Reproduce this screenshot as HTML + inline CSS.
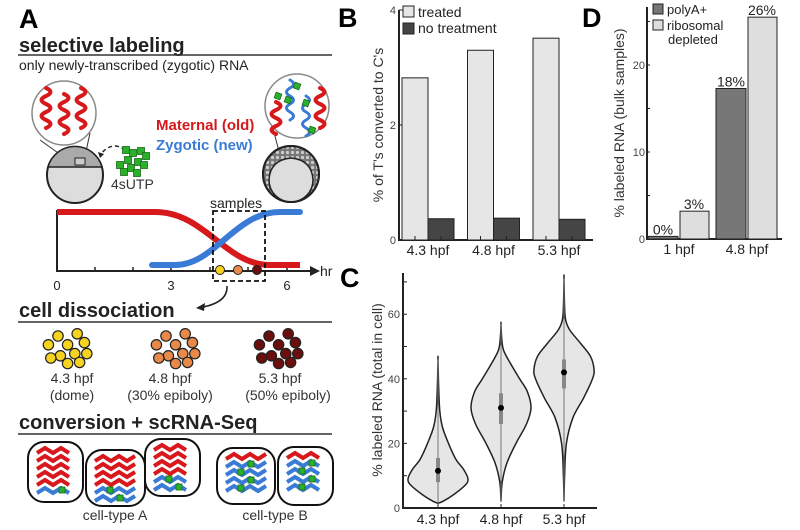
<!DOCTYPE html>
<html><head><meta charset="utf-8"><style>
body{margin:0;background:#fff}
svg{display:block;font-family:"Liberation Sans",Arial,sans-serif}
</style></head><body>
<svg id="fig" width="800" height="530" viewBox="0 0 800 530" xmlns="http://www.w3.org/2000/svg">
<defs>
<pattern id="hatch" width="5" height="5" patternUnits="userSpaceOnUse"><rect width="5" height="5" fill="#777"/><circle cx="2.5" cy="2.5" r="1.6" fill="#ccc"/></pattern>
</defs>
<!-- PANEL A -->
<g>
<text x="19" y="28" font-size="27" font-weight="bold">A</text>
<text x="19" y="52" font-size="20" font-weight="bold" fill="#222">selective labeling</text>
<line x1="18" y1="55" x2="332" y2="55" stroke="#333" stroke-width="1.5"/>
<text x="19" y="70" font-size="14" fill="#222">only newly-transcribed (zygotic) RNA</text>
<g>
<line x1="40" y1="140" x2="75" y2="165" stroke="#333"/><line x1="90" y1="133" x2="83" y2="165" stroke="#333"/>
<circle cx="64" cy="113" r="32" fill="#fff" stroke="#888" stroke-width="1.5"/>
<g id="lsq" fill="none" stroke="#d7191c" stroke-width="3.5"></g>
</g>
<g>
<circle cx="75" cy="175" r="28" fill="#ddd" stroke="#222" stroke-width="2"/>
<path d="M48,167 A28,28 0 0 1 102,167 Z" fill="#aaa" stroke="#222" stroke-width="1.5"/>
<rect x="75" y="158" width="10" height="7" fill="#ccc" stroke="#222"/>
</g>
<path d="M125,150 Q112,140 100,155" fill="none" stroke="#222" stroke-width="1.5" stroke-dasharray="4,3"/>
<path d="M98,152 l2,6 4,-4z" fill="#222"/>
<g id="green4s"></g>
<text x="111" y="189" font-size="14" fill="#333">4sUTP</text>
<text x="156" y="130" font-size="15" font-weight="bold" fill="#d7191c">Maternal (old)</text>
<text x="156" y="150" font-size="15" font-weight="bold" fill="#3a7bd5">Zygotic (new)</text>
<g>
<line x1="272" y1="125" x2="280" y2="155" stroke="#333"/>
<circle cx="297" cy="106" r="32" fill="#fff" stroke="#888" stroke-width="1.5"/>
<g id="rsq" fill="none" stroke-width="3"></g>
</g>
<g>
<circle cx="291" cy="174" r="28" fill="url(#hatch)" stroke="#222" stroke-width="2"/>
<path d="M269,180 Q270,160 291,158 Q312,160 313,180 A22,22 0 0 1 269,180 Z" fill="#ddd" stroke="#222" stroke-width="1.5"/>
<circle cx="291" cy="174" r="28" fill="none" stroke="#222" stroke-width="2"/>
</g>
<g>
<line x1="57" y1="210" x2="57" y2="272" stroke="#222" stroke-width="2"/>
<line x1="57" y1="271" x2="312" y2="271" stroke="#222" stroke-width="2"/>
<path d="M310,266 l10,5 -10,5z" fill="#222"/>
<text x="320" y="276" font-size="14" fill="#222">hr</text>
<g stroke="#222" stroke-width="1.5"><line x1="95" y1="267" x2="95" y2="271"/><line x1="133" y1="267" x2="133" y2="271"/><line x1="171" y1="266" x2="171" y2="271"/><line x1="210" y1="267" x2="210" y2="271"/><line x1="248" y1="267" x2="248" y2="271"/><line x1="287" y1="266" x2="287" y2="271"/></g>
<text x="57" y="290" font-size="13" text-anchor="middle" fill="#222">0</text>
<text x="171" y="290" font-size="13" text-anchor="middle" fill="#222">3</text>
<text x="287" y="290" font-size="13" text-anchor="middle" fill="#222">6</text>
<path d="M57,212 L155,212 C205,212 225,265 270,265 L300,265" fill="none" stroke="#d7191c" stroke-width="6"/>
<path d="M152,265 L175,265 C215,265 235,212 280,212 L300,212" fill="none" stroke="#3a7bd5" stroke-width="6" stroke-linecap="round"/>
<rect x="213" y="211" width="52" height="70" fill="none" stroke="#111" stroke-width="1.8" stroke-dasharray="5,3"/>
<text x="210" y="208" font-size="14" fill="#222">samples</text>
<circle cx="220" cy="270" r="4.5" fill="#f5d31f" stroke="#222"/>
<circle cx="238" cy="270" r="4.5" fill="#e8894a" stroke="#222"/>
<circle cx="257" cy="270" r="4.5" fill="#6b0e0e" stroke="#222"/>
<path d="M227,286 Q228,302 203,307" fill="none" stroke="#222" stroke-width="1.5"/>
<path d="M196,308 l9,-5 -1,8z" fill="#222"/>
</g>
<text x="19" y="317" font-size="20" font-weight="bold" fill="#222">cell dissociation</text>
<line x1="18" y1="322" x2="332" y2="322" stroke="#333" stroke-width="1.5"/>
<g id="clusters"></g>
<g font-size="14" fill="#333" text-anchor="middle">
<text x="72" y="383">4.3 hpf</text><text x="72" y="400">(dome)</text>
<text x="170" y="383">4.8 hpf</text><text x="170" y="400">(30% epiboly)</text>
<text x="280" y="383">5.3 hpf</text><text x="288" y="400">(50% epiboly)</text>
</g>
<text x="19" y="429" font-size="20" font-weight="bold" fill="#222">conversion + scRNA-Seq</text>
<line x1="18" y1="434" x2="332" y2="434" stroke="#333" stroke-width="1.5"/>
<g id="cells"></g>
<text x="115" y="520" font-size="14" fill="#333" text-anchor="middle">cell-type A</text>
<text x="275" y="520" font-size="14" fill="#333" text-anchor="middle">cell-type B</text>
</g>
<g id="panelB">
<text x="338" y="27" font-size="27" font-weight="bold">B</text>
<text transform="translate(383,125) rotate(-90)" font-size="14" text-anchor="middle" fill="#333">% of T's converted to C's</text>
</g>
<g id="panelC">
<text x="340" y="287" font-size="27" font-weight="bold">C</text>
<text transform="translate(382,390) rotate(-90)" font-size="14" text-anchor="middle" fill="#333">% labeled RNA (total in cell)</text>
</g>
<g id="panelD">
<text x="582" y="27" font-size="27" font-weight="bold">D</text>
<text transform="translate(624,123) rotate(-90)" font-size="14" text-anchor="middle" fill="#333">% labeled RNA (bulk samples)</text>
</g>
</svg>
<script>
// ---- Panel B data ----
const bCategories = ["4.3 hpf", "4.8 hpf", "5.3 hpf"];
const bTreated = [2.82, 3.3, 3.51];
const bNoTreatment = [0.37, 0.38, 0.36];
const bTicks = [0, 2, 4];
// ---- Panel C data ----
const cCategories = ["4.3 hpf", "4.8 hpf", "5.3 hpf"];
const cDensityValues = [
  [1.5, 2, 4, 7, 9, 12, 15, 20, 25, 30, 38, 46],
  [2, 8, 14, 20, 26, 31, 36, 40, 45, 49, 53, 57],
  [2, 10, 20, 28, 34, 40, 43, 47, 51, 55, 58, 62, 71]
];
const cDensities = [
  [0, 0.15, 0.5, 0.9, 1.0, 0.85, 0.6, 0.35, 0.15, 0.06, 0.02, 0],
  [0, 0.04, 0.2, 0.5, 0.85, 1.0, 0.88, 0.62, 0.3, 0.08, 0.02, 0],
  [0, 0.02, 0.08, 0.3, 0.65, 0.95, 1.0, 0.88, 0.55, 0.2, 0.06, 0.02, 0]
];
const cMedians = [11.5, 31, 42];
const cQ1 = [8, 26, 37];
const cQ3 = [15.5, 35.5, 46];
const cTicks = [0, 20, 40, 60];
// ---- Panel D data ----
const dCategories = ["1 hpf", "4.8 hpf"];
const dPolyA = [0.3, 17.3];
const dRibo = [3.2, 25.5];
const dPolyALabels = ["0%", "18%"];
const dRiboLabels = ["3%", "26%"];
const dTicks = [0, 10, 20];

const NS = "http://www.w3.org/2000/svg";
function mk(parent, tag, attrs, text) {
  const e = document.createElementNS(NS, tag);
  for (const k in attrs) e.setAttribute(k, attrs[k]);
  if (text !== undefined) e.textContent = text;
  parent.appendChild(e);
  return e;
}

(function () {
  const g = document.getElementById("panelB");
  const y = v => 240 - v * 57.5;
  const xc = i => 428 + i * 65.5;
  mk(g, "line", {x1: 399, y1: 10, x2: 399, y2: 241, stroke: "#222", "stroke-width": 2});
  mk(g, "line", {x1: 398, y1: 240, x2: 593, y2: 240, stroke: "#222", "stroke-width": 2});
  bTicks.forEach(t => {
    mk(g, "line", {x1: 399, y1: y(t), x2: 403, y2: y(t), stroke: "#222"});
    const l = mk(g, "text", {x: 396, y: y(t) + 4, "font-size": 11, "text-anchor": "end", fill: "#444"}, t);
    
    
  });
  bCategories.forEach((c, i) => {
    const b1 = mk(g, "rect", {x: xc(i) - 26, y: y(bTreated[i]), width: 26, height: 240 - y(bTreated[i]), fill: "#e6e6e6", stroke: "#222", "stroke-width": 1});
    
    
    const b2 = mk(g, "rect", {x: xc(i), y: y(bNoTreatment[i]), width: 26, height: 240 - y(bNoTreatment[i]), fill: "#454545", stroke: "#222", "stroke-width": 1});
    
    
    mk(g, "line", {x1: xc(i) - 13, y1: 236, x2: xc(i) - 13, y2: 240, stroke: "#222"});
    mk(g, "line", {x1: xc(i) + 13, y1: 236, x2: xc(i) + 13, y2: 240, stroke: "#222"});
    const t = mk(g, "text", {x: xc(i), y: 255, "font-size": 14, "text-anchor": "middle", fill: "#222"}, c);
    
    
  });
  const l1 = mk(g, "rect", {x: 403, y: 6, width: 11, height: 11, fill: "#e6e6e6", stroke: "#222"});
  
  
  mk(g, "text", {x: 418, y: 17, "font-size": 14, fill: "#222"}, "treated");
  const l2 = mk(g, "rect", {x: 403, y: 23, width: 11, height: 11, fill: "#454545", stroke: "#222"});
  
  
  mk(g, "text", {x: 418, y: 33, "font-size": 14, fill: "#222"}, "no treatment");
})();

(function () {
  const g = document.getElementById("panelC");
  const y = v => 508 - v * 3.23;
  const xc = i => 438 + i * 63;
  const W = 30;
  mk(g, "line", {x1: 403, y1: 273, x2: 403, y2: 509, stroke: "#222", "stroke-width": 2});
  mk(g, "line", {x1: 402, y1: 508, x2: 597, y2: 508, stroke: "#222", "stroke-width": 2});
  for (let v = 0; v <= 70; v += 10) mk(g, "line", {x1: 403, y1: y(v), x2: 407, y2: y(v), stroke: "#222"});
  cTicks.forEach(t => {
    const l = mk(g, "text", {x: 400, y: y(t) + 4, "font-size": 11, "text-anchor": "end", fill: "#444"}, t);
    
    
  });
  cCategories.forEach((c, i) => {
    const vals = cDensityValues[i], d = cDensities[i], cx = xc(i);
    const right = vals.map((v, k) => [cx + d[k] * W, y(v)]);
    const left = vals.map((v, k) => [cx - d[k] * W, y(v)]).reverse();
    const pts = right.concat(left);
    let p = "M" + pts[0][0] + "," + pts[0][1];
    for (let k = 0; k < pts.length - 1; k++) {
      const p0 = pts[Math.max(k - 1, 0)], p1 = pts[k], p2 = pts[k + 1], p3 = pts[Math.min(k + 2, pts.length - 1)];
      const c1 = [p1[0] + (p2[0] - p0[0]) / 6, p1[1] + (p2[1] - p0[1]) / 6];
      const c2 = [p2[0] - (p3[0] - p1[0]) / 6, p2[1] - (p3[1] - p1[1]) / 6];
      p += " C" + c1 + " " + c2 + " " + p2;
    }
    const v = mk(g, "path", {d: p + "Z", fill: "#e6e6e6", stroke: "#222", "stroke-width": 1.5});
    
    
    mk(g, "line", {x1: cx, y1: y(vals[0]), x2: cx, y2: y(vals[vals.length - 1]), stroke: "#777", "stroke-width": 1});
    const box = mk(g, "rect", {x: cx - 2, y: y(cQ3[i]), width: 4, height: y(cQ1[i]) - y(cQ3[i]), fill: "#888"});
    
    
    const m = mk(g, "circle", {cx: cx, cy: y(cMedians[i]), r: 3, fill: "#000"});
    
    
    mk(g, "line", {x1: cx, y1: 504, x2: cx, y2: 508, stroke: "#222"});
    const t = mk(g, "text", {x: cx, y: 524, "font-size": 14, "text-anchor": "middle", fill: "#222"}, c);
    
    
  });
})();

(function () {
  const g = document.getElementById("panelD");
  const y = v => 239 - v * 8.7;
  const xc = i => 679 + i * 68;
  mk(g, "line", {x1: 647, y1: 7, x2: 647, y2: 240, stroke: "#222", "stroke-width": 2});
  mk(g, "line", {x1: 646, y1: 239, x2: 782, y2: 239, stroke: "#222", "stroke-width": 2});
  for (let v = 0; v <= 25; v += 5) mk(g, "line", {x1: 647, y1: y(v), x2: 650, y2: y(v), stroke: "#222"});
  dTicks.forEach(t => {
    const l = mk(g, "text", {x: 645, y: y(t) + 4, "font-size": 11, "text-anchor": "end", fill: "#444"}, t);
    
    
  });
  dCategories.forEach((c, i) => {
    const cx = xc(i);
    const b1 = mk(g, "rect", {x: cx - 31, y: y(dPolyA[i]), width: 30, height: 239 - y(dPolyA[i]), fill: "#777", stroke: "#222"});
    
    
    const b2 = mk(g, "rect", {x: cx + 1, y: y(dRibo[i]), width: 29, height: 239 - y(dRibo[i]), fill: "#dedede", stroke: "#222"});
    
    
    const l1 = mk(g, "text", {x: cx - 16, y: y(dPolyA[i]) - 2, "font-size": 14, "text-anchor": "middle", fill: "#222"}, dPolyALabels[i]);
    
    
    const l2 = mk(g, "text", {x: cx + 15, y: y(dRibo[i]) - 2, "font-size": 14, "text-anchor": "middle", fill: "#222"}, dRiboLabels[i]);
    
    
    const t = mk(g, "text", {x: cx, y: 254, "font-size": 14, "text-anchor": "middle", fill: "#222"}, c);
    
    
  });
  const s1 = mk(g, "rect", {x: 653, y: 4, width: 10, height: 10, fill: "#777", stroke: "#222"});
  
  
  mk(g, "text", {x: 667, y: 14, "font-size": 13, fill: "#222"}, "polyA+");
  const s2 = mk(g, "rect", {x: 653, y: 20, width: 10, height: 10, fill: "#dedede", stroke: "#222"});
  
  
  mk(g, "text", {x: 667, y: 30, "font-size": 13, fill: "#222"}, "ribosomal");
  mk(g, "text", {x: 668, y: 44, "font-size": 13, fill: "#222"}, "depleted");
})();

function squig(parent, x, y, h, color, sw, amp) {
  let d = "M" + x + "," + y;
  for (let k = 0; k < h / 8; k++) d += " q" + (k % 2 ? -amp : amp) + ",4 0,8";
  mk(parent, "path", {d: d, stroke: color, "stroke-width": sw, fill: "none", "stroke-linecap": "round"});
}
(function () {
  const l = document.getElementById("lsq");
  squig(l, 46, 88, 40, "#d7191c", 4, 9);
  squig(l, 64, 94, 40, "#d7191c", 4, 9);
  squig(l, 81, 88, 40, "#d7191c", 4, 9);
  const r = document.getElementById("rsq");
  squig(r, 276, 102, 32, "#d7191c", 4, 9);
  squig(r, 320, 88, 36, "#d7191c", 4, 9);
  squig(r, 290, 80, 34, "#3a7bd5", 3, 7);
  squig(r, 306, 96, 36, "#3a7bd5", 3, 7);
  [[297, 86], [288, 100], [306, 103], [312, 130], [278, 96]].forEach(p => mk(r, "rect", {x: p[0] - 3, y: p[1] - 3, width: 6, height: 6, fill: "#2bb02b", stroke: "#176b17", "stroke-width": 0.8, transform: "rotate(20 " + p[0] + " " + p[1] + ")"}));
  const gsq = document.getElementById("green4s");
  [[126, 150], [133, 153], [141, 151], [146, 156], [128, 160], [138, 162], [120, 165], [131, 168], [144, 165], [124, 172], [137, 173]].forEach(p =>
    mk(gsq, "rect", {x: p[0] - 3.5, y: p[1] - 3.5, width: 7, height: 7, fill: "#2bb02b", stroke: "#176b17", "stroke-width": 0.8}));
  const cl = document.getElementById("clusters");
  const offs = [[-18, -2], [-10, -10], [-2, -2], [6, -12], [12, -4], [14, 6], [4, 6], [-8, 8], [-16, 10], [-2, 15], [8, 14]];
  [[70, 347, "#f5d31f"], [178, 347, "#e8894a"], [281, 347, "#6b0e0e"]].forEach(c =>
    offs.forEach(o => mk(cl, "circle", {cx: c[0] + o[0] * 1.2, cy: c[1] + o[1] * 1.1, r: 5.2, fill: c[2], stroke: "#222", "stroke-width": 1.2})));
  const ce = document.getElementById("cells");
  [[28, 442, 55, 60, 5, 1], [86, 450, 59, 56, 4, 2], [145, 439, 55, 57, 4, 2], [217, 448, 58, 56, 1, 4], [278, 447, 55, 58, 1, 4]].forEach(c => {
    mk(ce, "rect", {x: c[0], y: c[1], width: c[2], height: c[3], rx: 16, fill: "#fff", stroke: "#111", "stroke-width": 2});
    let yy = c[1] + 11;
    for (let k = 0; k < c[4] + c[5]; k++) {
      const col = k < c[4] ? "#d7191c" : "#3a7bd5";
      const x0 = c[0] + 9;
      mk(ce, "path", {d: "M" + x0 + "," + yy + " l8,-5 8,5 8,-5 8,5 " + (c[2] > 56 ? "8,-5" : ""), stroke: col, "stroke-width": 4, fill: "none"});
      if (k >= c[4]) mk(ce, "rect", {x: x0 + 12 + (k % 2) * 10, y: yy - 6, width: 6, height: 6, fill: "#2bb02b", stroke: "#176b17", "stroke-width": 0.8});
      yy += 8;
    }
  });
})();
</script>
</body></html>
